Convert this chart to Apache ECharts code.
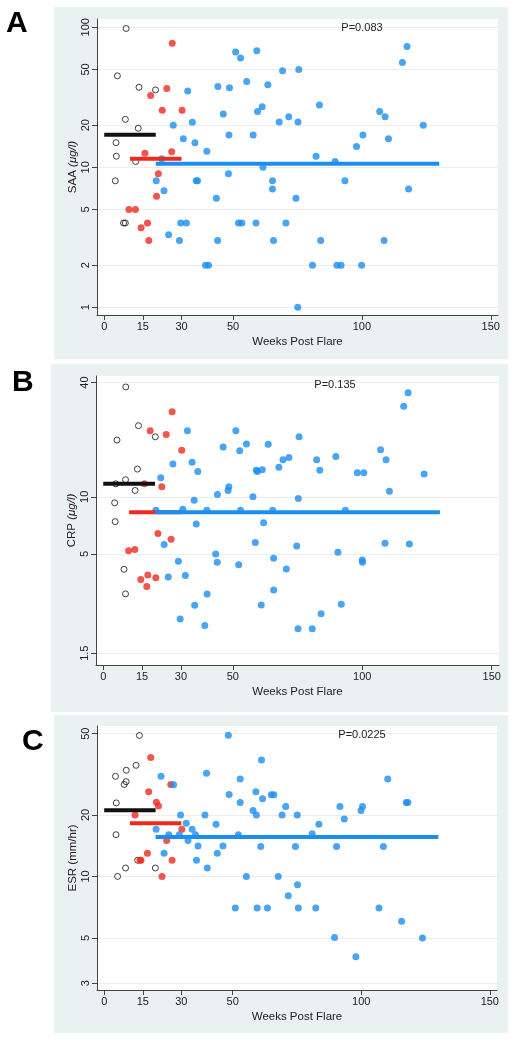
<!DOCTYPE html>
<html><head><meta charset="utf-8">
<script src="https://cdn.jsdelivr.net/npm/echarts@6/dist/echarts.min.js"></script>
<style>html,body{margin:0;padding:0;background:#fff}#c{width:515px;height:1040px}</style>
</head><body><div id="c"></div>
<script>
// ---------- DATA ----------
const weekTicks = [0, 15, 30, 50, 100, 150];
const saaTicks = [1, 2, 5, 10, 20, 50, 100];
const crpTicks = [1.5, 5, 10, 40];
const esrTicks = [3, 5, 10, 20, 50];

// Panel A: SAA (µg/l) — [weeks post flare, value]
const saaOpen = [[8.5,98],[5.1,45],[13.5,37.3],[19.9,35.7],[8.2,22],[13.2,19],[4.6,15],[4.7,12],[12.2,11],[4.3,8],[7.5,4],[8.2,4]];
const saaRed = [[26.4,77],[24.3,36.6],[18.0,32.5],[22.5,25.5],[30.2,25.5],[26.2,12.9],[15.8,12.6],[21.0,9.0],[20.3,6.2],[9.6,5],[12.1,5],[16.8,4],[14.3,3.7],[17.3,3.0]];
const saaBlue = [[22.3,11.5],[26.8,20],[20.2,8],[23.2,6.8],[32.4,35],[30.7,16],[34.2,21],[35.2,15],[35.7,8],[36.2,8],[39.8,13],[29.7,4],[31.9,4],[25.0,3.3],[29.2,3],[39.3,2],[40.5,2],[44.1,37.7],[48.6,37],[46.2,24],[48.4,17],[48.2,9],[43.5,6],[44.0,3],[51.0,66.7],[52.9,60.4],[59.2,68],[55.3,41],[59.5,25],[57.8,17],[52.1,4],[53.4,4],[58.9,4],[69.2,49],[75.5,49.9],[63.5,38.9],[61.3,27.1],[67.9,21.1],[71.6,23],[75.2,21.1],[83.5,27.9],[82.2,12],[89.6,11],[61.6,10],[65.3,8],[65.3,7],[74.4,6],[93.4,8],[97.9,14.1],[100.4,17],[106.9,25],[109.0,23],[110.3,16],[115.7,56],[117.5,72.8],[123.8,20],[118.1,7],[70.5,4],[65.7,3],[84.0,3],[108.6,3],[80.8,2],[90.3,2],[91.9,2],[99.9,2],[75.1,1]];
// mean lines: [fromWeek, toWeek, value] for open(black), red, blue
const saaMeans = [[0,20,17.1],[10,30,11.5],[20,130,10.6]];
const saaP = 'P=0.083';

// Panel B: CRP (µg/l)
const crpOpen = [[8.7,37.9],[13.6,23.7],[5.3,19.9],[20.1,20.7],[13.2,14],[8.6,12.3],[4.8,11.7],[12.3,10.8],[4.4,9.3],[4.6,7.4],[8.0,4.15],[8.6,3.08]];
const crpRed = [[26.6,28.1],[18.1,22.3],[24.3,21.3],[30.3,17.6],[22.6,11.3],[15.9,11.7],[21.1,6.4],[26.2,5.97],[9.8,5.2],[12.2,5.28],[14.5,3.67],[17.2,3.87],[20.3,3.75],[16.8,3.37]];
const crpBlue = [[22.2,12.6],[26.9,14.9],[32.5,22.3],[34.3,15.2],[36.5,13.6],[35.1,9.6],[30.7,8.6],[20.3,8.5],[35.9,7.2],[23.5,5.6],[29.0,4.57],[25.1,3.78],[31.7,3.85],[29.7,2.27],[35.3,2.68],[40.1,3.08],[39.2,2.1],[40.0,8.5],[43.4,5.0],[44.0,4.52],[44.1,10.3],[46.3,18.3],[48.2,10.8],[48.5,11.3],[51.2,22.3],[52.7,17.5],[55.3,19.0],[52.3,4.38],[53.0,8.5],[57.8,10.0],[59.1,13.8],[59.5,13.6],[58.7,5.75],[61.0,2.69],[61.4,13.9],[63.7,18.9],[61.9,7.3],[65.4,8.5],[65.8,4.74],[65.8,3.23],[67.8,14.3],[69.4,15.7],[71.7,16.1],[70.7,4.17],[75.6,20.7],[75.3,9.8],[74.7,5.5],[75.2,2.02],[80.7,2.02],[82.4,15.7],[83.6,13.8],[84.1,2.42],[89.8,16.3],[90.6,5.1],[93.5,8.5],[91.9,2.72],[98.1,13.4],[100.6,13.4],[100.0,4.65],[100.1,4.52],[107.1,17.7],[109.2,15.7],[110.5,10.7],[108.8,5.7],[116.0,30.0],[117.7,35.3],[118.2,5.64],[123.9,13.2]];
const crpMeans = [[0,20,11.7],[10,30,8.3],[20,130,8.3]];
const crpP = 'P=0.135';

// Panel C: ESR (mm/hr)
const esrOpen = [[13.7,49],[12.4,35],[8.6,33.1],[4.4,30.9],[8.5,29.1],[7.8,28.2],[4.7,22.9],[4.6,16],[13.0,12],[8.3,11],[5.2,10],[19.9,11]];
const esrRed = [[18.1,38.2],[17.3,26],[25.9,28.2],[20.3,23.1],[21.1,22.1],[12.0,20],[30.2,17],[24.3,15],[16.8,13],[14.3,12],[13.9,12],[26.4,12],[22.5,10]];
const esrBlue = [[22.1,30.9],[27.0,28.1],[20.2,17],[25.1,16],[23.3,13],[29.7,20],[29.2,16],[31.9,18.2],[32.6,15],[34.2,17],[35.5,16],[36.5,14.1],[35.9,12],[39.8,32],[39.2,20],[40.1,11],[43.5,18],[44.0,13],[46.2,14.1],[48.3,49.1],[48.6,25.2],[52.9,30],[52.9,23],[52.2,16],[55.3,10],[51.0,7],[59.5,7],[59.0,26],[57.9,21],[59.2,20],[61.2,37.1],[61.6,24],[65.0,25.1],[66.0,25.1],[70.6,22],[69.2,20],[75.1,20],[60.9,14],[74.4,14],[80.9,16.2],[83.5,18],[67.7,10],[75.2,9.1],[71.6,8.05],[63.5,7],[75.5,7],[82.3,7],[90.4,14],[89.6,5.03],[91.7,22],[93.4,19.1],[97.9,4.04],[99.9,21],[100.5,22],[108.6,14],[106.9,7],[110.3,30],[115.7,6.03],[117.5,23],[118.1,23],[123.8,5]];
const esrMeans = [[0,20,21.1],[10,30,18.2],[20,130,15.6]];
const esrP = 'P=0.0225';

// ---------- STYLE / LAYOUT ----------
const FONT = '"Liberation Sans", Arial, sans-serif';
const BLACK = '#111111', RED = '#ee2a1f', BLUE = '#1b8ff0';
const panels = [
  {letter:'A', bg:[54,7,454,352], grid:{left:97,top:19,width:401,height:296}, yMin:0.881, yMax:114.6, ticks:saaTicks,
   name:'{n|SAA }{i|(\u03bcg/l)}', open:saaOpen, red:saaRed, blue:saaBlue, means:saaMeans, p:saaP, pPos:[362,28], letterPos:[6,9]},
  {letter:'B', bg:[51,364,457,348], grid:{left:96,top:376,width:403,height:289}, yMin:1.30, yMax:43.3, ticks:crpTicks,
   name:'{n|CRP }{i|(\u03bcg/l)}', open:crpOpen, red:crpRed, blue:crpBlue, means:crpMeans, p:crpP, pPos:[335,385], letterPos:[12,368]},
  {letter:'C', bg:[54,715,454,318], grid:{left:97,top:726,width:400,height:264}, yMin:2.78, yMax:54.5, ticks:esrTicks,
   name:'{n|ESR (mm/hr)}', open:esrOpen, red:esrRed, blue:esrBlue, means:esrMeans, p:esrP, pPos:[362,735], letterPos:[22,727]}
];

const grid = [], xAxis = [], yAxis = [], series = [], graphic = [];
panels.forEach((p, i) => {
  graphic.push({type:'rect', shape:{x:p.bg[0], y:p.bg[1], width:p.bg[2], height:p.bg[3]}, style:{fill:'#eaf1f1'}, z:-10});
  graphic.push({type:'text', x:p.letterPos[0], y:p.letterPos[1], style:{text:p.letter, font:'bold 30px ' + FONT, fill:'#000'}});
  graphic.push({type:'text', x:p.pPos[0], y:p.pPos[1], style:{text:p.p, font:'11px ' + FONT, fill:'#222', align:'center', verticalAlign:'middle'}, z:10});
  grid.push(Object.assign({show:true, backgroundColor:'#ffffff', borderWidth:0, containLabel:false}, p.grid));
  xAxis.push({
    gridIndex:i, type:'value', min:-2.8, max:152.8,
    name:'Weeks Post Flare', nameLocation:'middle', nameGap:21, nameMoveOverlap:false,
    nameTextStyle:{fontFamily:FONT, fontSize:11.5, color:'#222'},
    axisLine:{show:true, onZero:false, lineStyle:{color:'#444', width:1}},
    axisTick:{show:true, length:5, customValues:weekTicks, lineStyle:{color:'#444'}},
    axisLabel:{customValues:weekTicks, margin:6, fontFamily:FONT, fontSize:11, color:'#222'},
    splitLine:{show:false}
  });
  yAxis.push({
    gridIndex:i, type:'log', logBase:10, min:p.yMin, max:p.yMax,
    name:p.name, nameLocation:'middle', nameGap:18, nameRotate:90, nameMoveOverlap:false,
    nameTextStyle:{fontFamily:FONT, fontSize:11.5, color:'#222',
      rich:{n:{fontFamily:FONT, fontSize:11.5, color:'#222'}, i:{fontFamily:FONT, fontSize:11.5, fontStyle:'italic', color:'#222'}}},
    axisLine:{show:true, onZero:false, lineStyle:{color:'#444', width:1}},
    axisTick:{show:true, length:5, customValues:p.ticks, lineStyle:{color:'#444'}},
    axisLabel:{customValues:p.ticks, rotate:90, margin:6, fontFamily:FONT, fontSize:11, color:'#222',
      formatter:v => String(Math.round(v*10)/10)},
    splitLine:{show:true, lineStyle:{color:'#ececec', width:1}},
    minorTick:{show:false}
  });
  series.push({type:'scatter', xAxisIndex:i, yAxisIndex:i, data:p.open, symbol:'circle', symbolSize:6,
    itemStyle:{color:'rgba(255,255,255,0)', borderColor:BLACK, borderWidth:1}, z:3});
  series.push({type:'scatter', xAxisIndex:i, yAxisIndex:i, data:p.red, symbol:'circle', symbolSize:7,
    itemStyle:{color:RED}, z:3});
  series.push({type:'scatter', xAxisIndex:i, yAxisIndex:i, data:p.blue, symbol:'circle', symbolSize:7,
    itemStyle:{color:BLUE}, z:3});
  const cols = [BLACK, RED, BLUE];
  p.means.forEach((m, k) => {
    series.push({type:'line', xAxisIndex:i, yAxisIndex:i, data:[[m[0], m[2]], [m[1], m[2]]],
      symbol:'none', lineStyle:{color:cols[k], width:4}, z:4 + k, silent:true});
  });
});

const chart = echarts.init(document.getElementById('c'), null, {renderer:'canvas'});
chart.setOption({animation:false, backgroundColor:'#ffffff', grid, xAxis, yAxis, series, graphic});
</script></body></html>
